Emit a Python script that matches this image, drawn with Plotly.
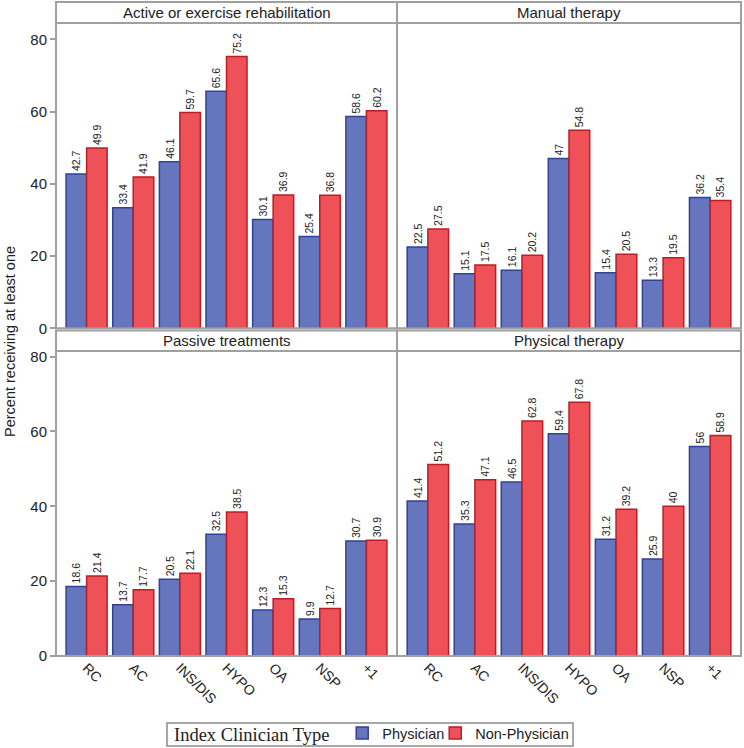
import plotly.graph_objects as go

categories = ["RC", "AC", "INS/DIS", "HYPO", "OA", "NSP", "+1"]
panels = ["Active or exercise rehabilitation", "Manual therapy",
          "Passive treatments", "Physical therapy"]
physician = {
    "Active or exercise rehabilitation": [42.7, 33.4, 46.1, 65.6, 30.1, 25.4, 58.6],
    "Manual therapy": [22.5, 15.1, 16.1, 47, 15.4, 13.3, 36.2],
    "Passive treatments": [18.6, 13.7, 20.5, 32.5, 12.3, 9.9, 30.7],
    "Physical therapy": [41.4, 35.3, 46.5, 59.4, 31.2, 25.9, 56],
}
non_physician = {
    "Active or exercise rehabilitation": [49.9, 41.9, 59.7, 75.2, 36.9, 36.8, 60.2],
    "Manual therapy": [27.5, 17.5, 20.2, 54.8, 20.5, 19.5, 35.4],
    "Passive treatments": [21.4, 17.7, 22.1, 38.5, 15.3, 12.7, 30.9],
    "Physical therapy": [51.2, 47.1, 62.8, 67.8, 39.2, 40, 58.9],
}
y_ticks = [0, 20, 40, 60, 80]

W, H = 744, 748
L, R, T, B = 56, 741, 2, 656


def px2x(p):
    return (p - L) / (R - L)


def py2y(p):
    return (B - p) / (B - T)


BLUE, BLUE_LINE = "rgb(102,118,190)", "rgb(48,66,150)"
RED, RED_LINE = "rgb(238,82,88)", "rgb(185,30,36)"
GRAY = "rgb(160,160,160)"
FONT = "Liberation Sans, Arial, sans-serif"

xcols = [[0, px2x(397)], [px2x(397), 1]]
yrows = [[py2y(328.3), py2y(23)], [0, py2y(351)]]
yranges = [[0, 84.5], [0, 81.5]]
headers = [(2, 23), (330.5, 351)]

fig = go.Figure()
layout = {}
shapes = []
annotations = []
for i, name in enumerate(panels):
    r, c = divmod(i, 2)
    k = i + 1
    xa = "x" if k == 1 else f"x{k}"
    ya = "y" if k == 1 else f"y{k}"
    for label, vals, fill, line in [("Physician", physician[name], BLUE, BLUE_LINE),
                                    ("Non-Physician", non_physician[name], RED, RED_LINE)]:
        fig.add_trace(go.Bar(
            x=categories, y=vals, name=label, xaxis=xa, yaxis=ya,
            marker=dict(color=fill, line=dict(color=line, width=1.5)),
            text=vals, texttemplate="%{y}", textposition="outside", textangle=-90,
            textfont=dict(family=FONT, size=10.5, color="#222"),
            cliponaxis=False, showlegend=(i == 0),
            legendgroup=label,
        ))
    xkey = "xaxis" if k == 1 else f"xaxis{k}"
    ykey = "yaxis" if k == 1 else f"yaxis{k}"
    layout[xkey] = dict(domain=xcols[c], anchor=ya, range=[-0.656, 6.656],
                        showticklabels=(r == 1), tickangle=45, ticks="",
                        tickfont=dict(family=FONT, size=14, color="#222"),
                        showgrid=False, zeroline=False, showline=False,
                        categoryorder="array", categoryarray=categories)
    layout[ykey] = dict(domain=yrows[r], anchor=xa, range=yranges[r],
                        tickvals=y_ticks, showticklabels=(c == 0),
                        ticks="outside" if c == 0 else "", ticklen=5,
                        tickcolor=GRAY, tickwidth=1.5,
                        tickfont=dict(family=FONT, size=15, color="#222"),
                        showgrid=False, zeroline=False, showline=False)
    # panel border
    shapes.append(dict(type="rect", xref="paper", yref="paper",
                       x0=xcols[c][0], x1=xcols[c][1], y0=yrows[r][0], y1=yrows[r][1],
                       line=dict(color=GRAY, width=2), layer="above"))
    # header box
    h0, h1 = headers[r]
    shapes.append(dict(type="rect", xref="paper", yref="paper",
                       x0=xcols[c][0], x1=xcols[c][1], y0=py2y(h1), y1=py2y(h0),
                       line=dict(color=GRAY, width=2), fillcolor="white"))
    annotations.append(dict(text=name, xref="paper", yref="paper",
                            x=(xcols[c][0] + xcols[c][1]) / 2, y=(py2y(h0) + py2y(h1)) / 2,
                            xanchor="center", yanchor="middle", showarrow=False,
                            font=dict(family=FONT, size=15, color="#222")))

# invisible spacer entry so the last legend label is not clipped
fig.add_trace(go.Scatter(x=[None], y=[None], mode="markers", name=" ",
                         marker=dict(opacity=0, size=1), showlegend=True,
                         hoverinfo="skip"))

annotations.append(dict(text="Percent receiving at least one", xref="paper", yref="paper",
                        x=px2x(10), y=py2y(342), textangle=-90, showarrow=False,
                        xanchor="center", yanchor="middle",
                        font=dict(family=FONT, size=14.5, color="#222")))

# legend frame
shapes.append(dict(type="rect", xref="paper", yref="paper",
                   x0=px2x(167), x1=px2x(573), y0=py2y(746), y1=py2y(723),
                   line=dict(color="rgb(140,140,140)", width=1.5),
                   layer="above"))

fig.update_layout(
    **layout,
    width=W, height=H,
    margin=dict(l=L, r=W - R, t=T, b=H - B, autoexpand=False),
    paper_bgcolor="white", plot_bgcolor="white",
    barmode="group", bargap=0.12, bargroupgap=0,
    shapes=shapes, annotations=annotations,
    legend=dict(orientation="h", x=px2x(172), xanchor="left",
                y=py2y(734.5), yanchor="middle",
                borderwidth=0, bgcolor="rgba(0,0,0,0)",
                title=dict(text="Index Clinician Type ", side="left",
                           font=dict(family="Liberation Serif, Times New Roman, serif",
                                     size=18.5, color="#222")),
                font=dict(family=FONT, size=14.5, color="#222"),
                itemwidth=30, tracegroupgap=0,
                entrywidth=48, entrywidthmode="pixels"),
)

fig.write_html("out.html", config={"displayModeBar": False},
               post_script="document.body.style.margin='0';")
